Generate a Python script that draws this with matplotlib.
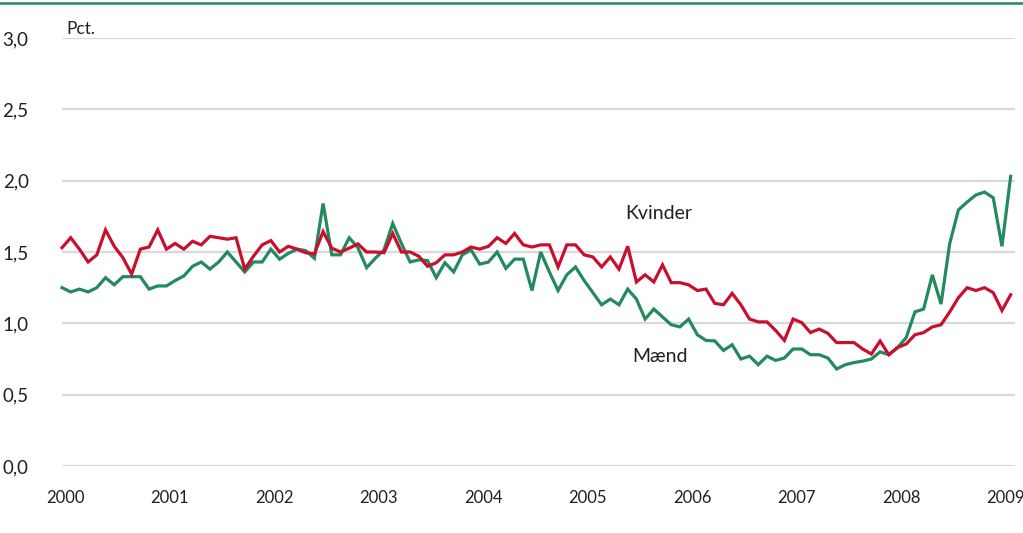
import matplotlib
matplotlib.use("Agg")
import matplotlib.pyplot as plt
from matplotlib.lines import Line2D
import numpy as np

# Monthly unemployment-related rate, Jan 2000 - Feb 2009 (Pct.)
kvinder = [
    1.53, 1.60, 1.52, 1.43, 1.48, 1.655, 1.54, 1.46, 1.345, 1.52, 1.535, 1.655,
    1.52, 1.56, 1.52, 1.575, 1.55, 1.61, 1.60, 1.59, 1.60, 1.38, 1.47, 1.55,
    1.58, 1.50, 1.54, 1.52, 1.495, 1.487, 1.643, 1.527, 1.50, 1.527, 1.557, 1.50,
    1.50, 1.495, 1.63, 1.50, 1.50, 1.47, 1.40, 1.425, 1.48, 1.48, 1.50, 1.535,
    1.52, 1.54, 1.60, 1.56, 1.63, 1.55, 1.535, 1.55, 1.55, 1.395, 1.55, 1.55,
    1.48, 1.465, 1.395, 1.465, 1.38, 1.54, 1.29, 1.34, 1.29, 1.41, 1.285, 1.285,
    1.27, 1.23, 1.24, 1.14, 1.13, 1.21, 1.13, 1.03, 1.01, 1.01, 0.95, 0.88,
    1.03, 1.005, 0.935, 0.96, 0.93, 0.865, 0.865, 0.865, 0.82, 0.785, 0.876, 0.78,
    0.83, 0.855, 0.92, 0.935, 0.975, 0.99, 1.08, 1.18, 1.25, 1.23, 1.25, 1.215,
    1.09, 1.20,
]
maend = [
    1.25, 1.22, 1.24, 1.22, 1.25, 1.32, 1.27, 1.327, 1.327, 1.327, 1.24, 1.262,
    1.262, 1.30, 1.332, 1.40, 1.43, 1.38, 1.43, 1.50, 1.43, 1.36, 1.43, 1.43,
    1.52, 1.45, 1.49, 1.52, 1.51, 1.456, 1.84, 1.48, 1.48, 1.60, 1.53, 1.39,
    1.456, 1.515, 1.70, 1.56, 1.43, 1.445, 1.44, 1.32, 1.425, 1.36, 1.48, 1.515,
    1.415, 1.43, 1.50, 1.385, 1.45, 1.45, 1.23, 1.50, 1.36, 1.23, 1.34, 1.395,
    1.30, 1.215, 1.13, 1.17, 1.13, 1.24, 1.17, 1.03, 1.10, 1.045, 0.99, 0.975,
    1.03, 0.92, 0.88, 0.877, 0.81, 0.85, 0.75, 0.77, 0.71, 0.77, 0.74, 0.757,
    0.82, 0.82, 0.78, 0.78, 0.757, 0.68, 0.71, 0.725, 0.735, 0.75, 0.80, 0.78,
    0.83, 0.90, 1.08, 1.10, 1.34, 1.135, 1.56, 1.795, 1.85, 1.90, 1.92, 1.88,
    1.54, 2.03,
]
years = ["2000", "2001", "2002", "2003", "2004", "2005", "2006", "2007", "2008", "2009"]
yticks = [0.0, 0.5, 1.0, 1.5, 2.0, 2.5, 3.0]
ytick_labels = ["0,0", "0,5", "1,0", "1,5", "2,0", "2,5", "3,0"]

RED = "#c8102e"
GREEN = "#238a5f"
TEXT = "#231f20"
FONT = ["Lato", "DejaVu Sans"]

fig = plt.figure(figsize=(10.23, 5.33), dpi=100)
ax = fig.add_axes([62 / 1023, 67 / 533, 953 / 1023, 428 / 533])

x = np.arange(len(kvinder))
for v in yticks:
    ax.axhline(v, color="#d9d9d9", lw=1.6, zorder=1)

ax.plot(x, maend, color=GREEN, lw=2.3, zorder=3, solid_joinstyle="miter", clip_on=False)
ax.plot(x, kvinder, color=RED, lw=2.3, zorder=4, solid_joinstyle="miter", clip_on=False)

ax.set_xlim(0, 109.5)
ax.set_ylim(0, 3.0)
for s in ax.spines.values():
    s.set_visible(False)
ax.tick_params(length=0)
ax.set_yticks(yticks)
ax.set_yticklabels(ytick_labels, fontsize=13.5, color=TEXT, family=FONT)
ax.tick_params(axis="y", pad=24)
ax.set_xticks([12 * i + 0.4 for i in range(len(years))])
ax.set_xticklabels(years, fontsize=12, color=TEXT, family=FONT)
ax.tick_params(axis="x", pad=17)

ax.text(0.45, 3.01, "Pct.", fontsize=12.5, color=TEXT, family=FONT,
        ha="left", va="bottom")
ax.text(68.6, 1.767, "Kvinder", fontsize=14, color=TEXT, family=FONT,
        ha="center", va="center")
ax.text(68.7, 0.77, "Mænd", fontsize=14, color=TEXT, family=FONT,
        ha="center", va="center")

fig.add_artist(Line2D([0, 1], [1 - 3 / 533, 1 - 3 / 533], transform=fig.transFigure,
                      color=GREEN, lw=1.8))

fig.savefig("out.png", dpi=100)
